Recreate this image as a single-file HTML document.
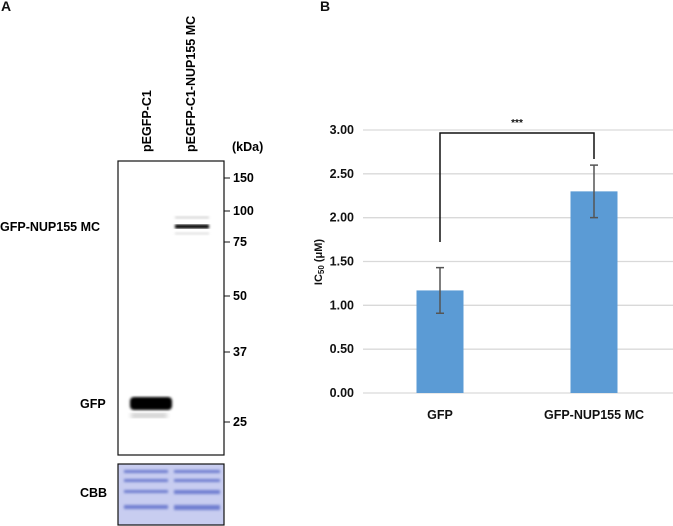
<!DOCTYPE html>
<html><head><meta charset="utf-8"><style>
body{margin:0;width:673px;height:526px;background:#fff;position:relative;overflow:hidden;font-family:"Liberation Sans",Arial,sans-serif;font-weight:bold;color:#111}
.t{position:absolute;font-size:12px;white-space:nowrap}
</style></head><body>
<div class="t" style="left:1px;top:-2px;font-size:14px">A</div>
<div class="t" style="left:320px;top:-2px;font-size:14px">B</div>
<svg width="673" height="526" style="position:absolute;left:0;top:0">
 <defs>
  <filter id="bl"><feGaussianBlur stdDeviation="1.2"/></filter>
  <filter id="bl2"><feGaussianBlur stdDeviation="2"/></filter>
 </defs>
 <g font-family="Liberation Sans, Arial, sans-serif" font-weight="bold" font-size="12.5">
  <rect x="118" y="161" width="106" height="294" fill="#fff" stroke="#111" stroke-width="1.2"/>
  <rect x="175" y="224.5" width="34" height="4" fill="#000" filter="url(#bl)"/>
  <rect x="175" y="216" width="34" height="3" fill="#ddd" filter="url(#bl)"/>
  <rect x="175" y="232" width="34" height="3" fill="#e6e6e6" filter="url(#bl)"/>
  <rect x="130" y="397" width="42" height="13" rx="4" fill="#000" filter="url(#bl)"/>
  <rect x="131" y="413" width="36" height="5" fill="#ccc" filter="url(#bl2)"/>
  <g stroke="#111" stroke-width="1">
   <line x1="224" y1="178" x2="230" y2="178"/><line x1="224" y1="211" x2="230" y2="211"/>
   <line x1="224" y1="242" x2="230" y2="242"/><line x1="224" y1="296" x2="230" y2="296"/>
   <line x1="224" y1="352" x2="230" y2="352"/><line x1="224" y1="422" x2="230" y2="422"/>
  </g>
  <text x="233" y="182">150</text><text x="233" y="215">100</text><text x="233" y="246">75</text>
  <text x="233" y="300">50</text><text x="233" y="356">37</text><text x="233" y="426">25</text>
  <text x="232" y="151">(kDa)</text>
  <text x="0" y="231">GFP-NUP155 MC</text>
  <text x="80" y="408">GFP</text>
  <text x="80" y="497">CBB</text>
  <text transform="translate(151,152) rotate(-90)">pEGFP-C1</text>
  <text transform="translate(195,152) rotate(-90)">pEGFP-C1-NUP155 MC</text>
  <rect x="118" y="464" width="106" height="61" fill="#c8cdf0" stroke="#111" stroke-width="1.2"/>
  <g fill="#6f7ed0" filter="url(#bl)">
   <rect x="124" y="470" width="44" height="3"/><rect x="174" y="470" width="46" height="3"/>
   <rect x="124" y="479" width="44" height="3"/><rect x="174" y="479" width="46" height="3"/>
   <rect x="124" y="490" width="44" height="3"/><rect x="174" y="490" width="46" height="4"/>
   <rect x="124" y="505" width="44" height="4"/><rect x="174" y="505" width="46" height="5"/>
  </g>
 </g>
 <g id="chart"></g>
</svg>
<script>
const categories=["GFP","GFP-NUP155 MC"];
const values=[1.17,2.30];
const errors=[0.26,0.30];
const ticks=[0,0.5,1,1.5,2,2.5,3];
const tickLabels=["0.00","0.50","1.00","1.50","2.00","2.50","3.00"];
const NS="http://www.w3.org/2000/svg";
const g=document.getElementById("chart");
const y=v=>393-v*(263/3);
const xc=i=>440+i*154;
function mk(t,a){const e=document.createElementNS(NS,t);for(const k in a)e.setAttribute(k,a[k]);g.appendChild(e);return e;}
ticks.forEach((t,i)=>{
 const l=mk("line",{x1:363,x2:673,y1:y(t),y2:y(t),stroke:"#d9d9d9","stroke-width":1.3});
 
 
 const tx=mk("text",{x:354,y:y(t)+4,"text-anchor":"end","font-size":12.5,"font-weight":"bold","font-family":"Liberation Sans, Arial, sans-serif",fill:"#111"});
 tx.textContent=tickLabels[i];
 
 
});
categories.forEach((c,i)=>{
 const b=mk("rect",{x:xc(i)-23.5,y:y(values[i]),width:47,height:y(0)-y(values[i]),fill:"#5b9bd5"});
 
 
 const top=y(values[i]+errors[i]),bot=y(values[i]-errors[i]);
 const e=mk("path",{d:`M${xc(i)},${top}V${bot}M${xc(i)-4},${top}H${xc(i)+4}M${xc(i)-4},${bot}H${xc(i)+4}`,stroke:"#555","stroke-width":1.5,fill:"none"});
 
 
 const t=mk("text",{x:xc(i),y:419,"text-anchor":"middle","font-size":12.5,"font-weight":"bold","font-family":"Liberation Sans, Arial, sans-serif",fill:"#111"});
 t.textContent=c;
 
 
});
const br=mk("path",{d:`M${xc(0)},242V133H${xc(1)}V159`,stroke:"#111","stroke-width":1.5,fill:"none"});


const st=mk("text",{x:(xc(0)+xc(1))/2,y:126,"text-anchor":"middle","font-size":10,"font-family":"Liberation Sans, Arial, sans-serif",fill:"#111"});
st.textContent="***";


const yt=mk("text",{transform:"translate(322,262) rotate(-90)","text-anchor":"middle","font-size":11,"font-weight":"bold","font-family":"Liberation Sans, DejaVu Sans, sans-serif",fill:"#111"});
yt.innerHTML='IC<tspan font-size="8" dy="2">50</tspan><tspan dy="-2"> (μM)</tspan>';


</script>
</body></html>
